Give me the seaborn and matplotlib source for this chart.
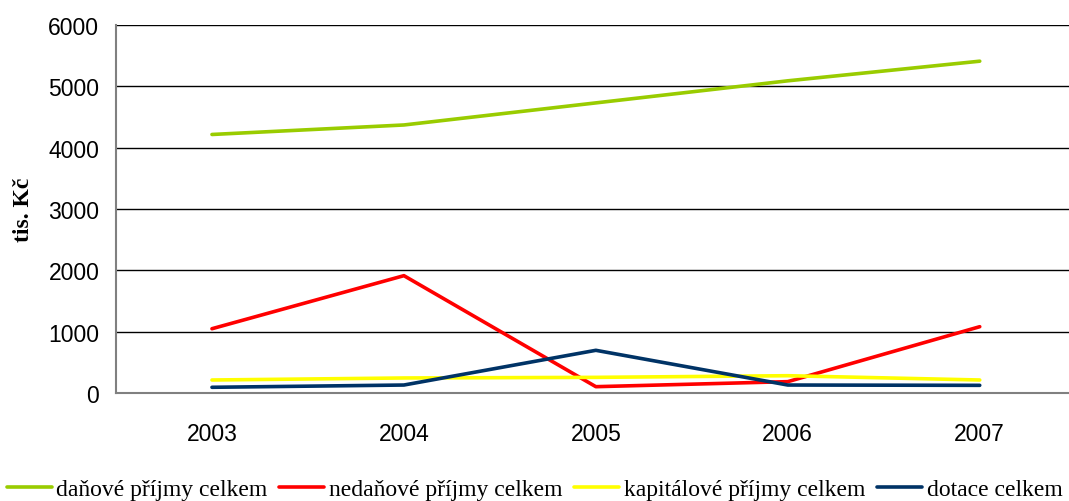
import numpy as np
import matplotlib
matplotlib.use("Agg")
import matplotlib.pyplot as plt
import pandas as pd
import seaborn as sns
from matplotlib.lines import Line2D

roky = ["2003", "2004", "2005", "2006", "2007"]
danove = [4215, 4370, 4730, 5090, 5410]
nedanove = [1048, 1913, 103, 185, 1081]
kapitalove = [212, 245, 255, 282, 212]
dotace = [93, 130, 696, 130, 125]

nazvy = ["daňové příjmy celkem", "nedaňové příjmy celkem",
         "kapitálové příjmy celkem", "dotace celkem"]
barvy = ["#99CC00", "#FF0000", "#FFFF00", "#003366"]

sns.set_style("white")
plt.rcParams["font.family"] = ["Liberation Sans", "DejaVu Sans"]
plt.rcParams["text.color"] = "black"
plt.rcParams["xtick.labelcolor"] = "black"
plt.rcParams["ytick.labelcolor"] = "black"

df = pd.DataFrame({"rok": roky * 4,
                   "hodnota": danove + nedanove + kapitalove + dotace,
                   "serie": sum([[n] * len(roky) for n in nazvy], [])})
df["x"] = df["rok"].map({r: i for i, r in enumerate(roky)})

fig = plt.figure(figsize=(10.69, 5.02), dpi=100)
ax = fig.add_axes([116 / 1069, 108 / 502, (1069 - 116) / 1069, 368 / 502])

sns.lineplot(data=df, x="x", y="hodnota", hue="serie", hue_order=nazvy,
             palette=barvy, linewidth=2.6, ax=ax, legend=False,
             solid_capstyle="round")

ax.set_ylim(0, 6000)
ax.set_yticks(np.arange(0, 6001, 1000))
ax.set_xlim(-0.5, 4.465)
ax.set_xticks(range(len(roky)))
ax.set_xticklabels(roky)
ax.set_xticks(np.arange(0.5, 4, 1), minor=True)
ax.tick_params(axis="x", which="major", length=0, pad=21, labelsize=16.5)
ax.tick_params(axis="x", which="minor", length=6, width=1, color="#404040", direction="out")
ax.tick_params(axis="y", length=6, width=1, color="#808080", direction="out", pad=6, labelsize=16.5)
ax.yaxis.grid(True, color="black", linewidth=1)
ax.set_axisbelow(True)
for s in ["top", "right"]:
    ax.spines[s].set_visible(False)
for s in ["left", "bottom"]:
    ax.spines[s].set_color("#808080")
    ax.spines[s].set_linewidth(1.5)
ax.set_xlabel("")
ax.set_ylabel("tis. Kč", fontfamily="Liberation Serif", fontweight="bold",
              fontsize=17, labelpad=10, color="black")

handles = [Line2D([0], [0], color=c, linewidth=2.6) for c in barvy]
fig.legend(handles, nazvy, loc="center", bbox_to_anchor=(0.5, 12 / 502), ncol=4,
           frameon=False, prop={"family": "Liberation Serif", "size": 17},
           handlelength=1.9, handletextpad=0.2, columnspacing=0.5)

fig.savefig("out.png", dpi=100)
